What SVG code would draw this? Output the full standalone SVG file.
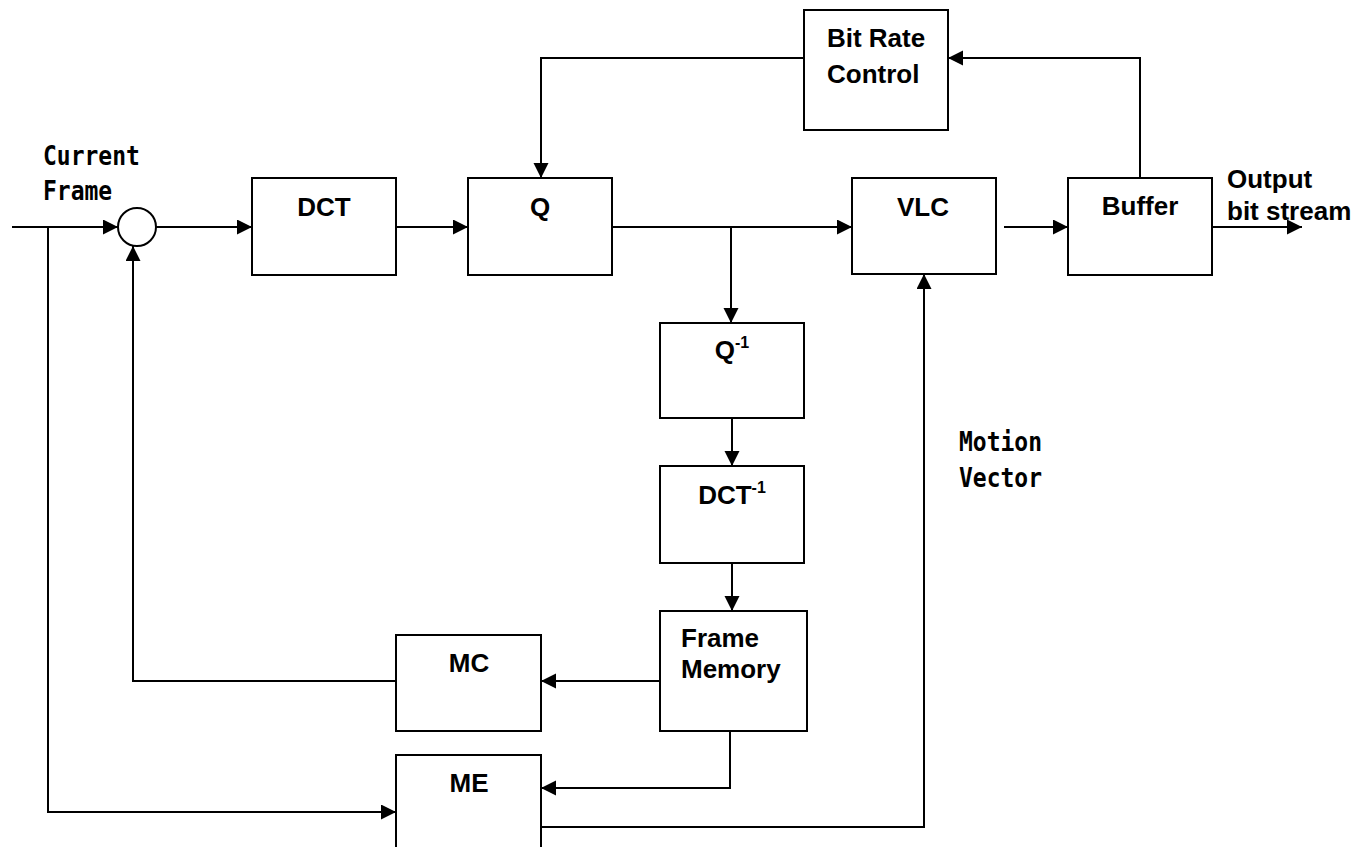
<svg xmlns="http://www.w3.org/2000/svg" width="1368" height="847" viewBox="0 0 1368 847">
<style>
.box{fill:#fff;stroke:#000;stroke-width:2}
.ln{fill:none;stroke:#000;stroke-width:2}
.lb{font-family:"Liberation Sans",Arial,sans-serif;font-weight:bold;font-size:26px;fill:#000}
.sup{font-size:16px}
.mono{font-family:"DejaVu Sans Mono","Liberation Mono",monospace;font-size:23px;font-weight:bold;fill:#000}
</style>
<defs>
<marker id="ah" markerUnits="userSpaceOnUse" markerWidth="16" markerHeight="16" refX="15" refY="7.5" orient="auto">
<path d="M0,0 L15,7.5 L0,15 z" fill="#000"/>
</marker>
</defs>
<rect width="1368" height="847" fill="#fff"/>
<g id="connectors" class="ln" marker-end="url(#ah)">
<path d="M12,227 H118"/>
<path d="M48,227 V812 H396"/>
<path d="M156,227 H252"/>
<path d="M396,227 H468"/>
<path d="M612,227 H852"/>
<path d="M731,227 V323"/>
<path d="M732,418 V466"/>
<path d="M732,563 V611"/>
<path d="M660,681 H541"/>
<path d="M396,681 H133 V246"/>
<path d="M730,731 V788 H541"/>
<path d="M541,827 H924 V274"/>
<path d="M1004,227 H1068"/>
<path d="M1212,227 H1302"/>
<path d="M1140,178 V58 H948"/>
<path d="M804,58 H541 V178"/>
</g>
<g id="sum"><circle class="box" cx="137" cy="227" r="19"/></g>
<g id="brc"><rect class="box" x="804" y="10" width="144" height="120"/>
<text class="lb" x="876" y="47" text-anchor="middle">Bit Rate</text>
<text class="lb" x="827" y="83">Control</text></g>
<g id="dct"><rect class="box" x="252" y="178" width="144" height="97"/>
<text class="lb" x="324" y="216" text-anchor="middle">DCT</text></g>
<g id="q"><rect class="box" x="468" y="178" width="144" height="97"/>
<text class="lb" x="540" y="216" text-anchor="middle">Q</text></g>
<g id="vlc"><rect class="box" x="852" y="178" width="144" height="96"/>
<text class="lb" x="923" y="216" text-anchor="middle">VLC</text></g>
<g id="buffer"><rect class="box" x="1068" y="178" width="144" height="97"/>
<text class="lb" x="1140" y="215" text-anchor="middle">Buffer</text></g>
<g id="iq"><rect class="box" x="660" y="323" width="144" height="95"/>
<text class="lb" x="732" y="359" text-anchor="middle">Q<tspan class="sup" dy="-11">-1</tspan></text></g>
<g id="idct"><rect class="box" x="660" y="466" width="144" height="97"/>
<text class="lb" x="732" y="504" text-anchor="middle">DCT<tspan class="sup" dy="-11">-1</tspan></text></g>
<g id="fm"><rect class="box" x="660" y="611" width="147" height="120"/>
<text class="lb" x="681" y="647">Frame</text>
<text class="lb" x="681" y="678">Memory</text></g>
<g id="mc"><rect class="box" x="396" y="635" width="145" height="96"/>
<text class="lb" x="469" y="672" text-anchor="middle">MC</text></g>
<g id="me"><rect class="box" x="396" y="755" width="145" height="100"/>
<text class="lb" x="469" y="792" text-anchor="middle">ME</text></g>
<g id="labels">
<text class="mono" transform="translate(43,165) scale(1,1.18)">Current</text>
<text class="mono" transform="translate(43,200) scale(1,1.18)">Frame</text>
<text class="mono" transform="translate(959,451) scale(1,1.18)">Motion</text>
<text class="mono" transform="translate(959,487) scale(1,1.18)">Vector</text>
<text class="lb" x="1227" y="188">Output</text>
<text class="lb" x="1227" y="220">bit stream</text>
</g>
</svg>
